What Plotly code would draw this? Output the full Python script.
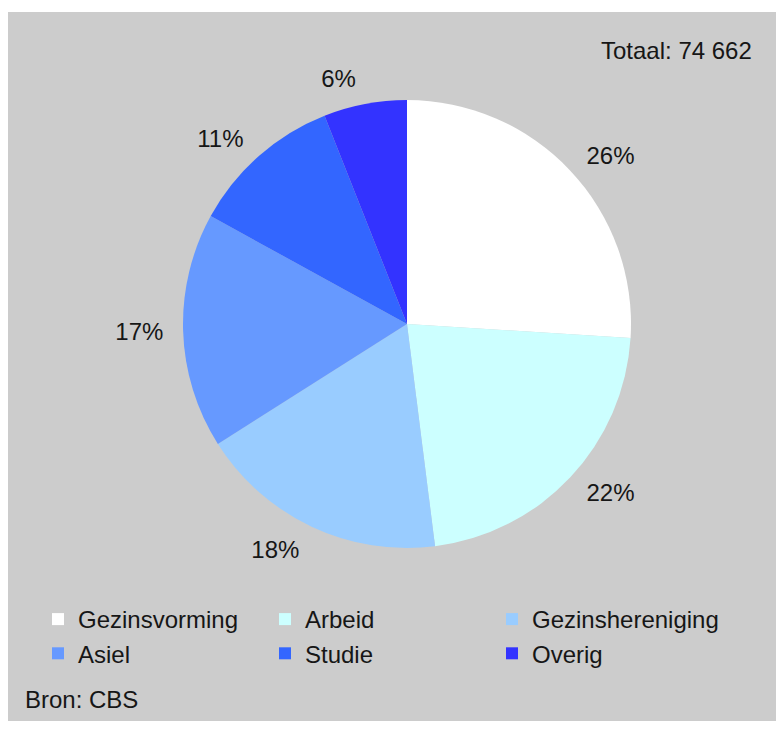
import plotly.graph_objects as go

categories = ["Gezinsvorming", "Arbeid", "Gezinshereniging", "Asiel", "Studie", "Overig"]
shares = [26, 22, 18, 17, 11, 6]
colors = ["#ffffff", "#ccffff", "#99ccff", "#6699ff", "#3366ff", "#3333ff"]
total_label = "Totaal: 74 662"
source_label = "Bron: CBS"

# page has an 8px body margin; figure sized to fit inside the window
W, H = 776, 713
BG = "#cccccc"
FONT = "Liberation Sans, Arial, sans-serif"
TXT = "#161616"
FS = 24


def dom(cx, cy, r):
    return dict(x=[(cx - r) / W, (cx + r) / W], y=[(H - cy - r) / H, (H - cy + r) / H])


CX, CY, R = 399, 316, 224

fig = go.Figure()
# visible pie
fig.add_trace(go.Pie(
    labels=categories,
    values=shares,
    sort=False,
    direction="clockwise",
    rotation=0,
    marker=dict(colors=colors, line=dict(width=0)),
    textinfo="none",
    domain=dom(CX, CY, R),
    hoverinfo="label+percent",
))
# transparent companion pie, only carrying the outside percentage labels
fig.add_trace(go.Pie(
    labels=categories,
    values=shares,
    sort=False,
    direction="clockwise",
    rotation=0,
    marker=dict(colors=["rgba(0,0,0,0)"] * len(categories), line=dict(width=0)),
    texttemplate="%{percent:.0%}",
    textposition="outside",
    textfont=dict(family=FONT, size=FS, color=TXT),
    domain=dom(CX, CY, R + 13),
    hoverinfo="skip",
    showlegend=False,
))

fig.update_layout(
    width=W, height=H,
    margin=dict(l=0, r=0, t=0, b=0),
    paper_bgcolor=BG,
    plot_bgcolor=BG,
    font=dict(family=FONT, size=FS, color=TXT),
    showlegend=True,
    legend=dict(
        orientation="h",
        x=30 / W, xanchor="left",
        y=(H - 589) / H, yanchor="top",
        entrywidth=182, entrywidthmode="pixels",
        font=dict(family=FONT, size=FS, color=TXT),
        bgcolor="rgba(0,0,0,0)",
        traceorder="normal",
    ),
    shapes=[
        dict(type="rect", xref="paper", yref="paper", x0=0, x1=1, y0=(H - 4) / H, y1=1,
             fillcolor="#ffffff", line=dict(width=0), layer="above"),
    ],
    annotations=[
        dict(text=total_label, xref="paper", yref="paper", x=746 / W, y=(H - 42) / H,
             xanchor="right", yanchor="middle", showarrow=False,
             font=dict(family=FONT, size=FS, color=TXT)),
        dict(text=source_label, xref="paper", yref="paper", x=15 / W, y=(H - 691) / H,
             xanchor="left", yanchor="middle", showarrow=False,
             font=dict(family=FONT, size=FS, color=TXT)),
    ],
)

fig.write_html("out.html")
